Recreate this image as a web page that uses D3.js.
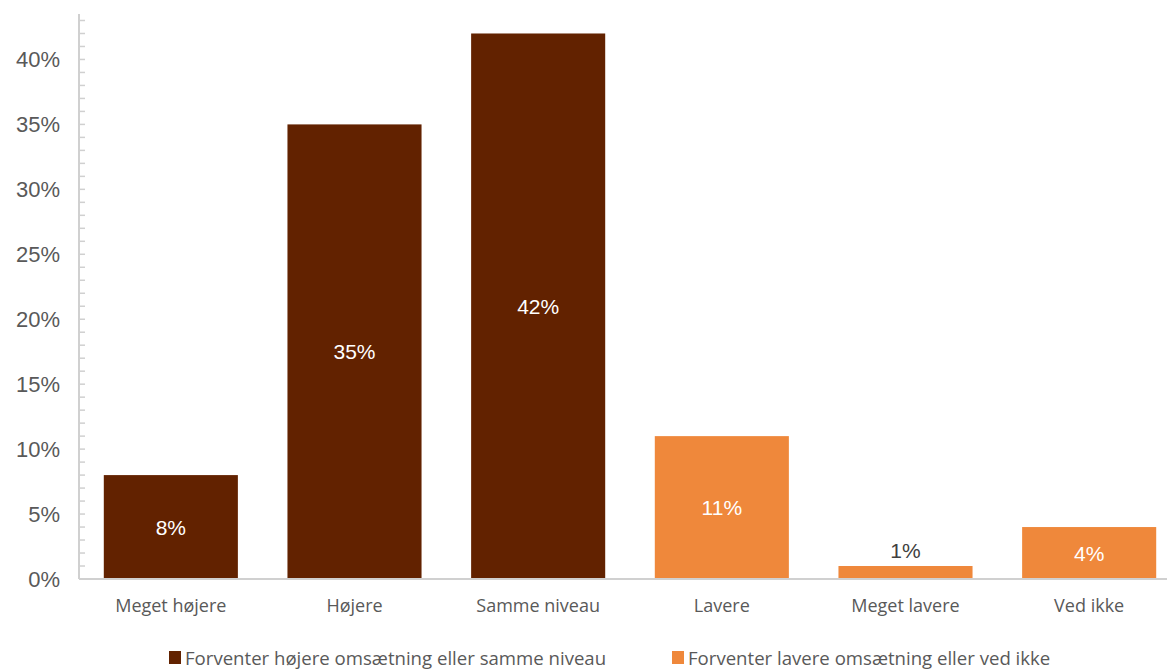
<!DOCTYPE html>
<html>
<head>
<meta charset="utf-8">
<script src="https://cdn.jsdelivr.net/npm/d3@7"></script>
<style>
  body { margin: 0; background: #fff; }
  svg { display: block; }
</style>
</head>
<body>
<div id="chart"></div>
<script>
// Data
const categories = ['Meget højere', 'Højere', 'Samme niveau', 'Lavere', 'Meget lavere', 'Ved ikke'];
const values = [8, 35, 42, 11, 1, 4];
const groups = [0, 0, 0, 1, 1, 1];
const seriesNames = ['Forventer højere omsætning eller samme niveau', 'Forventer lavere omsætning eller ved ikke'];
const yTicks = [0, 5, 10, 15, 20, 25, 30, 35, 40];

const colors = ['#622200', '#EF883B'];
const W = 1167, H = 672;
const x0 = 79, baseY = 579, topY = 14;

const svg = d3.select('#chart').append('svg')
  .attr('width', W).attr('height', H);

const x = d3.scaleBand()
  .domain(categories)
  .range([x0, 1181])
  .paddingInner(0.27)
  .paddingOuter(0.135);

const y = d3.scaleLinear()
  .domain([0, 43.5])
  .range([baseY, topY]);

// minor ticks on y axis
svg.append('g')
  .selectAll('line')
  .data(d3.range(1, 44))
  .enter().append('line')
  .attr('x1', x0).attr('x2', x0 + 6)
  .attr('y1', d => y(d)).attr('y2', d => y(d))
  .attr('stroke', '#d0d0d0').attr('stroke-width', 1.5);

// y axis line
svg.append('line')
  .attr('x1', x0).attr('x2', x0)
  .attr('y1', topY).attr('y2', baseY)
  .attr('stroke', '#d0d0d0').attr('stroke-width', 2);

// y tick labels
svg.append('g')
  .selectAll('text')
  .data(yTicks)
  .enter().append('text')
  .attr('x', 60)
  .attr('y', d => y(d))
  .attr('dy', '0.36em')
  .attr('text-anchor', 'end')
  .attr('font-family', 'Liberation Sans, Arial, sans-serif')
  .attr('font-size', 22)
  .attr('fill', '#595959')
  .text(d => d + '%');

// bars
svg.append('g')
  .selectAll('rect')
  .data(values)
  .enter().append('rect')
  .attr('x', (d, i) => x(categories[i]))
  .attr('y', d => y(d))
  .attr('width', x.bandwidth())
  .attr('height', d => baseY - y(d))
  .attr('fill', (d, i) => colors[groups[i]]);

// x baseline
svg.append('line')
  .attr('x1', x0).attr('x2', W)
  .attr('y1', baseY).attr('y2', baseY)
  .attr('stroke', '#d0d0d0').attr('stroke-width', 2);

// value labels
svg.append('g')
  .selectAll('text')
  .data(values)
  .enter().append('text')
  .attr('x', (d, i) => x(categories[i]) + x.bandwidth() / 2)
  .attr('y', d => (baseY - y(d)) > 30 ? (y(d) + baseY) / 2 : y(d) - 16)
  .attr('dy', '0.36em')
  .attr('text-anchor', 'middle')
  .attr('font-family', 'Liberation Sans, Arial, sans-serif')
  .attr('font-size', 21)
  .attr('fill', d => (baseY - y(d)) > 30 ? '#fff' : '#404040')
  .text(d => d + '%');

// category labels
svg.append('g')
  .selectAll('text')
  .data(categories)
  .enter().append('text')
  .attr('x', d => x(d) + x.bandwidth() / 2)
  .attr('y', 606)
  .attr('dy', '0.36em')
  .attr('text-anchor', 'middle')
  .attr('font-family', 'Open Sans, sans-serif')
  .attr('font-size', 18)
  .attr('fill', '#595959')
  .text(d => d);

// legend
const legendX = [169, 672];
const legend = svg.append('g')
  .selectAll('g')
  .data(seriesNames)
  .enter().append('g')
  .attr('transform', (d, i) => `translate(${legendX[i]},651)`);

legend.append('rect')
  .attr('width', 12).attr('height', 13)
  .attr('fill', (d, i) => colors[i]);

legend.append('text')
  .attr('x', 16).attr('y', 7)
  .attr('dy', '0.36em')
  .attr('font-family', 'Open Sans, sans-serif')
  .attr('font-size', 18.6)
  .attr('fill', '#595959')
  .text(d => d);
</script>
</body>
</html>
